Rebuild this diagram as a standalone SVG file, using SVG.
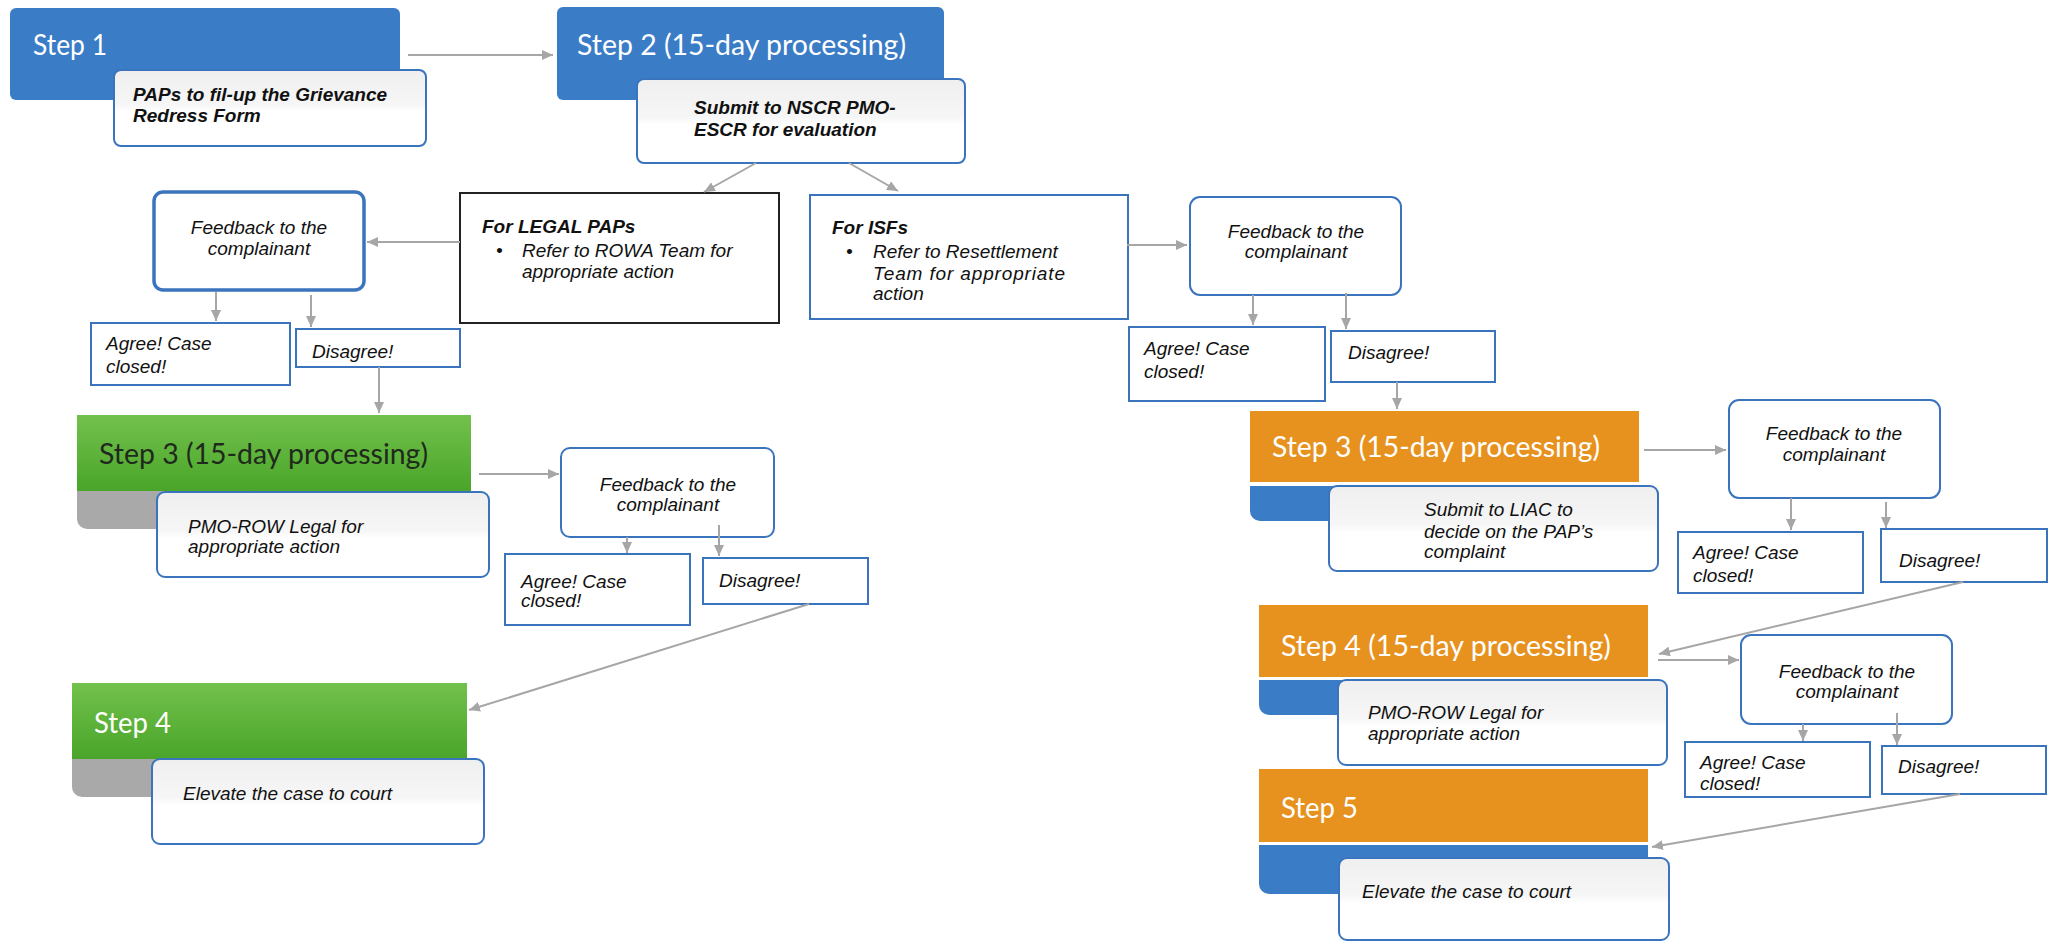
<svg xmlns="http://www.w3.org/2000/svg" width="2054" height="943" viewBox="0 0 2054 943">
<defs>
<marker id="ah" markerUnits="userSpaceOnUse" markerWidth="12" markerHeight="10" refX="11" refY="5" orient="auto">
<path d="M0,0 L11,5 L0,10 z" fill="#a6a6a6"/>
</marker>
<linearGradient id="gr" x1="0" y1="0" x2="0" y2="1">
<stop offset="0" stop-color="#72c14c"/>
<stop offset="1" stop-color="#4aa52a"/>
</linearGradient>
<linearGradient id="wb" x1="0" y1="0" x2="0" y2="1">
<stop offset="0" stop-color="#efefef"/>
<stop offset="0.45" stop-color="#f6f6f6"/>
<stop offset="0.55" stop-color="#ffffff"/>
<stop offset="1" stop-color="#ffffff"/>
</linearGradient>
</defs>
<style>
.hd{font-family:Lato,"Open Sans","Liberation Sans",sans-serif;font-size:28px;fill:#ffffff}
.hdk{fill:#1f2a1c}
.blue{fill:#3b7cc7}
.org{fill:#e7921f}
.gray{fill:#a9a9a9}
.wbox{fill:url(#wb);stroke:#3a74bd;stroke-width:2}
.box{fill:#ffffff;stroke:#3a74bd;stroke-width:2}
.t{font-family:"Liberation Sans",Arial,sans-serif;font-size:19px;font-style:italic;fill:#111}
.b{font-weight:bold}
.c{text-anchor:middle}
.cn line{stroke:#a6a6a6;stroke-width:2;marker-end:url(#ah)}
</style>
<rect width="2054" height="943" fill="#ffffff"/>

<g id="step1">
<rect x="10" y="8" width="390" height="92" rx="6" class="blue"/>
<text x="33" y="55" class="hd" textLength="74" lengthAdjust="spacingAndGlyphs">Step 1</text>
</g>
<g id="paps">
<rect x="114" y="70" width="312" height="76" rx="7" class="wbox"/>
<text x="133" y="101" class="t b">PAPs to fil-up the Grievance</text>
<text x="133" y="122" class="t b">Redress Form</text>
</g>

<g id="step2">
<rect x="557" y="7" width="387" height="93" rx="6" class="blue"/>
<text x="577" y="55" class="hd" textLength="329" lengthAdjust="spacingAndGlyphs">Step 2 (15-day processing)</text>
</g>
<g id="submit">
<rect x="637" y="79" width="328" height="84" rx="7" class="wbox"/>
<text x="694" y="114" class="t b">Submit to NSCR PMO-</text>
<text x="694" y="136" class="t b">ESCR for evaluation</text>
</g>

<g id="legal">
<rect x="460" y="193" width="319" height="130" fill="#ffffff" stroke="#222222" stroke-width="2"/>
<text x="482" y="233" class="t b">For LEGAL PAPs</text>
<text x="496" y="257" class="t">•</text>
<text x="522" y="257" class="t">Refer to ROWA Team for</text>
<text x="522" y="278" class="t">appropriate action</text>
</g>

<g id="isfs">
<rect x="810" y="195" width="318" height="124" class="box"/>
<text x="832" y="234" class="t b">For ISFs</text>
<text x="846" y="258" class="t">•</text>
<text x="873" y="258" class="t">Refer to Resettlement</text>
<text x="873" y="280" class="t" textLength="192" lengthAdjust="spacing">Team for appropriate</text>
<text x="873" y="300" class="t">action</text>
</g>

<g id="fb1">
<rect x="154" y="192" width="210" height="98" rx="9" fill="#ffffff" stroke="#3a74bd" stroke-width="3.5"/>
<text x="259" y="234" class="t c">Feedback to the</text>
<text x="259" y="255" class="t c">complainant</text>
</g>
<g id="agree1">
<rect x="91" y="323" width="199" height="62" class="box"/>
<text x="106" y="350" class="t">Agree! Case</text>
<text x="106" y="373" class="t">closed!</text>
</g>
<g id="dis1">
<rect x="296" y="329" width="164" height="38" class="box"/>
<text x="312" y="358" class="t">Disagree!</text>
</g>

<g id="step3g">
<rect x="77" y="440" width="394" height="89" rx="10" class="gray"/>
<rect x="77" y="415" width="394" height="76" fill="url(#gr)"/>
<text x="99" y="464" class="hd hdk" textLength="329" lengthAdjust="spacingAndGlyphs">Step 3 (15-day processing)</text>
</g>
<g id="pmo1">
<rect x="157" y="492" width="332" height="85" rx="8" class="wbox"/>
<text x="188" y="533" class="t">PMO-ROW Legal for</text>
<text x="188" y="553" class="t">appropriate action</text>
</g>
<g id="fb2">
<rect x="561" y="448" width="213" height="89" rx="9" class="box"/>
<text x="668" y="491" class="t c">Feedback to the</text>
<text x="668" y="511" class="t c">complainant</text>
</g>
<g id="agree2">
<rect x="505" y="554" width="185" height="71" class="box"/>
<text x="521" y="588" class="t">Agree! Case</text>
<text x="521" y="607" class="t">closed!</text>
</g>
<g id="dis2">
<rect x="703" y="558" width="165" height="46" class="box"/>
<text x="719" y="587" class="t">Disagree!</text>
</g>

<g id="step4g">
<rect x="72" y="710" width="395" height="87" rx="10" class="gray"/>
<rect x="72" y="683" width="395" height="76" fill="url(#gr)"/>
<text x="94" y="733" class="hd" textLength="77" lengthAdjust="spacingAndGlyphs">Step 4</text>
</g>
<g id="elev1">
<rect x="152" y="759" width="332" height="85" rx="8" class="wbox"/>
<text x="183" y="800" class="t">Elevate the case to court</text>
</g>

<g id="fb3">
<rect x="1190" y="197" width="211" height="98" rx="10" class="box"/>
<text x="1296" y="238" class="t c">Feedback to the</text>
<text x="1296" y="258" class="t c">complainant</text>
</g>
<g id="agree3">
<rect x="1129" y="327" width="196" height="74" class="box"/>
<text x="1144" y="355" class="t">Agree! Case</text>
<text x="1144" y="378" class="t">closed!</text>
</g>
<g id="dis3">
<rect x="1331" y="331" width="164" height="51" class="box"/>
<text x="1348" y="359" class="t">Disagree!</text>
</g>

<g id="step3o">
<rect x="1250" y="470" width="389" height="51" rx="10" class="blue"/>
<rect x="1250" y="482" width="389" height="4" fill="#ffffff"/>
<rect x="1250" y="411" width="389" height="71" class="org"/>
<text x="1272" y="457" class="hd" textLength="328" lengthAdjust="spacingAndGlyphs">Step 3 (15-day processing)</text>
</g>
<g id="liac">
<rect x="1329" y="486" width="329" height="85" rx="8" class="wbox"/>
<text x="1424" y="516" class="t">Submit to LIAC to</text>
<text x="1424" y="538" class="t">decide on the PAP’s</text>
<text x="1424" y="558" class="t">complaint</text>
</g>
<g id="fb4">
<rect x="1729" y="400" width="211" height="98" rx="10" class="box"/>
<text x="1834" y="440" class="t c">Feedback to the</text>
<text x="1834" y="461" class="t c">complainant</text>
</g>
<g id="agree4">
<rect x="1678" y="532" width="185" height="61" class="box"/>
<text x="1693" y="559" class="t">Agree! Case</text>
<text x="1693" y="582" class="t">closed!</text>
</g>
<g id="dis4">
<rect x="1881" y="529" width="166" height="53" class="box"/>
<text x="1899" y="567" class="t">Disagree!</text>
</g>

<g id="step4o">
<rect x="1259" y="664" width="389" height="51" rx="10" class="blue"/>
<rect x="1259" y="677" width="389" height="3" fill="#ffffff"/>
<rect x="1259" y="605" width="389" height="72" class="org"/>
<text x="1281" y="656" class="hd" textLength="330" lengthAdjust="spacingAndGlyphs">Step 4 (15-day processing)</text>
</g>
<g id="pmo2">
<rect x="1338" y="680" width="329" height="85" rx="8" class="wbox"/>
<text x="1368" y="719" class="t">PMO-ROW Legal for</text>
<text x="1368" y="740" class="t">appropriate action</text>
</g>
<g id="fb5">
<rect x="1741" y="635" width="211" height="89" rx="10" class="box"/>
<text x="1847" y="678" class="t c">Feedback to the</text>
<text x="1847" y="698" class="t c">complainant</text>
</g>
<g id="agree5">
<rect x="1685" y="742" width="185" height="55" class="box"/>
<text x="1700" y="769" class="t">Agree! Case</text>
<text x="1700" y="790" class="t">closed!</text>
</g>
<g id="dis5">
<rect x="1882" y="746" width="164" height="48" class="box"/>
<text x="1898" y="773" class="t">Disagree!</text>
</g>

<g id="step5">
<rect x="1259" y="830" width="389" height="64" rx="10" class="blue"/>
<rect x="1259" y="842" width="389" height="3" fill="#ffffff"/>
<rect x="1259" y="769" width="389" height="73" class="org"/>
<text x="1281" y="818" class="hd" textLength="77" lengthAdjust="spacingAndGlyphs">Step 5</text>
</g>
<g id="elev2">
<rect x="1339" y="858" width="330" height="82" rx="8" class="wbox"/>
<text x="1362" y="898" class="t">Elevate the case to court</text>
</g>

<g id="connectors" class="cn">
<line x1="408" y1="55" x2="553" y2="55"/>
<line x1="756" y1="163" x2="704" y2="192"/>
<line x1="849" y1="163" x2="898" y2="191"/>
<line x1="460" y1="242" x2="367" y2="242"/>
<line x1="216" y1="292" x2="216" y2="321"/>
<line x1="311" y1="295" x2="311" y2="327"/>
<line x1="379" y1="367" x2="379" y2="413"/>
<line x1="1127" y1="245" x2="1187" y2="245"/>
<line x1="1253" y1="295" x2="1253" y2="325"/>
<line x1="1346" y1="293" x2="1346" y2="329"/>
<line x1="1397" y1="382" x2="1397" y2="409"/>
<line x1="479" y1="474" x2="559" y2="474"/>
<line x1="627" y1="537" x2="627" y2="553"/>
<line x1="719" y1="525" x2="719" y2="556"/>
<line x1="809" y1="604" x2="469" y2="710"/>
<line x1="1644" y1="450" x2="1726" y2="450"/>
<line x1="1791" y1="498" x2="1791" y2="530"/>
<line x1="1886" y1="502" x2="1886" y2="528"/>
<line x1="1963" y1="582" x2="1659" y2="654"/>
<line x1="1658" y1="660" x2="1739" y2="660"/>
<line x1="1803" y1="724" x2="1803" y2="741"/>
<line x1="1897" y1="713" x2="1897" y2="745"/>
<line x1="1960" y1="794" x2="1652" y2="847"/>
</g>
</svg>
